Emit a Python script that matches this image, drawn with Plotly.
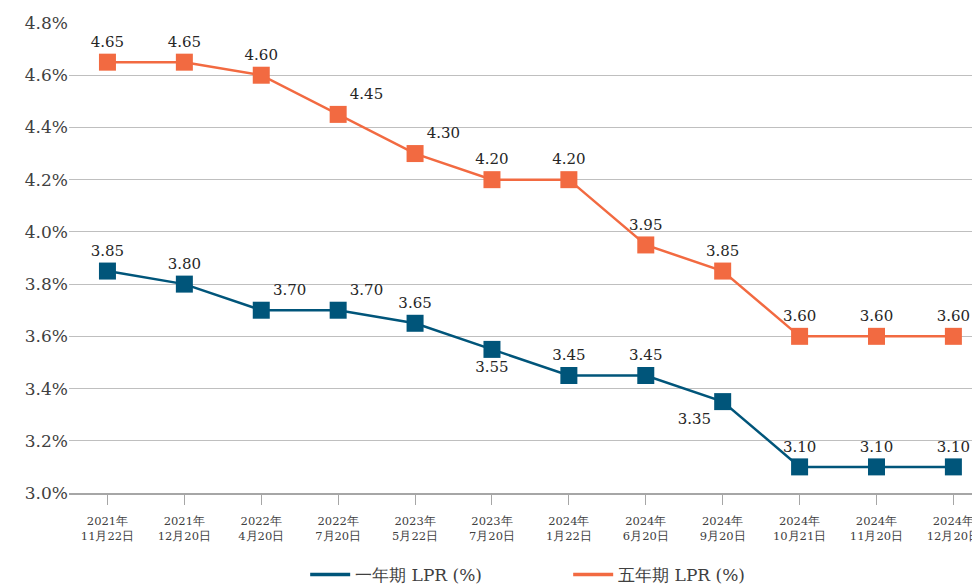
import plotly.graph_objects as go

categories = ["2021年<br>11月22日", "2021年<br>12月20日", "2022年<br>4月20日", "2022年<br>7月20日",
              "2023年<br>5月22日", "2023年<br>7月20日", "2024年<br>1月22日", "2024年<br>6月20日",
              "2024年<br>9月20日", "2024年<br>10月21日", "2024年<br>11月20日", "2024年<br>12月20日"]
lpr_1y = [3.85, 3.80, 3.70, 3.70, 3.65, 3.55, 3.45, 3.45, 3.35, 3.10, 3.10, 3.10]
lpr_5y = [4.65, 4.65, 4.60, 4.45, 4.30, 4.20, 4.20, 3.95, 3.85, 3.60, 3.60, 3.60]
pos_1y = ["top center", "top center", "top right", "top right", "top center", "bottom center",
          "top center", "top center", "bottom left", "top center", "top center", "top center"]
pos_5y = ["top center", "top center", "top center", "top right", "top right", "top center",
          "top center", "top center", "top center", "top center", "top center", "top center"]

BLUE = "#00557A"
ORANGE = "#F26A41"
FONT = "DejaVu Serif"

fig = go.Figure()
for vals, pos, color, name in [(lpr_1y, pos_1y, BLUE, "一年期 LPR (%)"),
                               (lpr_5y, pos_5y, ORANGE, "五年期 LPR (%)")]:
    fig.add_trace(go.Scatter(
        x=categories, y=vals, name=name, mode="lines+markers+text", showlegend=False,
        line=dict(color=color, width=2.5),
        marker=dict(symbol="square", size=17, color=color),
        text=[f"{v:.2f}" for v in vals], textposition=pos,
        textfont=dict(size=15, color="#262626", family=FONT),
    ))
for color, name in [(BLUE, "一年期 LPR (%)"), (ORANGE, "五年期 LPR (%)")]:
    fig.add_trace(go.Scatter(
        x=[None], y=[None], name=name, mode="lines",
        line=dict(color=color, width=3.5), showlegend=True,
    ))

fig.update_layout(
    width=980, height=585,
    margin=dict(l=61, r=0, t=15, b=100),
    paper_bgcolor="white", plot_bgcolor="white",
    font=dict(family=FONT, color="#404040"),
    showlegend=True,
    legend=dict(orientation="h", x=0.257, xanchor="left", yref="container", y=0.0, yanchor="bottom",
                font=dict(size=17, color="#404040", family=FONT),
                itemwidth=40, tracegroupgap=0, entrywidthmode="pixels", entrywidth=208),
    xaxis=dict(
        type="category", range=[-0.5, 11.45], automargin=False,
        showgrid=False, showline=True, linecolor="#A6A6A6", linewidth=1.5,
        ticks="outside", ticklen=10, tickcolor="#A6A6A6", tickwidth=1,
        ticklabelstandoff=6,
        tickfont=dict(size=11.5, color="#404040", family=FONT),
    ),
    yaxis=dict(
        range=[3.0, 4.8], dtick=0.2, tickformat=".1f", ticksuffix="%", automargin=False,
        showgrid=True, gridcolor="#BFBFBF", gridwidth=1.2,
        zeroline=False, showline=False, ticks="",
        tickfont=dict(size=17, color="#404040", family=FONT),
    ),
)

fig.write_html("out.html")
